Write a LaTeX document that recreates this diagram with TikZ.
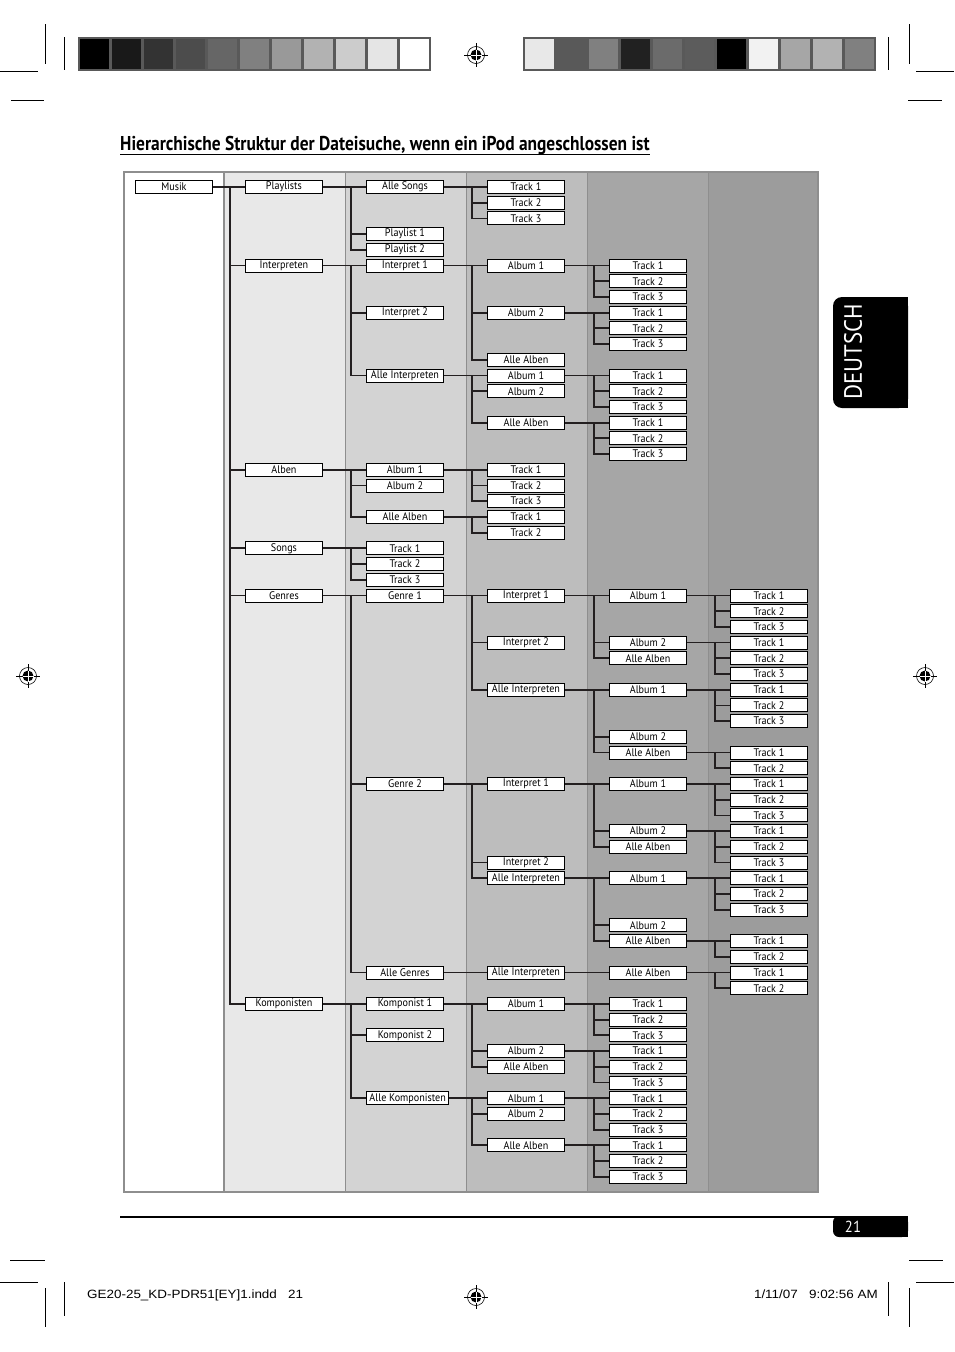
\documentclass[tikz,border=0pt]{standalone}
\usepackage{fontspec}
\setmainfont{PT Sans}
\newfontfamily\titlefont[FakeStretch=0.87]{PT Sans}
\newfontfamily\boxfont[FakeStretch=0.92]{PT Sans}
\newfontfamily\slugfont[FakeStretch=1.12]{Liberation Sans}
\definecolor{bandB}{HTML}{E8E8E8}
\definecolor{bandC}{HTML}{D3D3D3}
\definecolor{bandD}{HTML}{BDBDBD}
\definecolor{bandE}{HTML}{A6A6A6}
\definecolor{bandF}{HTML}{9C9C9C}
\definecolor{sepgray}{HTML}{8E8E8E}
\definecolor{linkgray}{HTML}{231F20}
\begin{document}
\begin{tikzpicture}[x=1pt, y=-1pt,
    declare function={rowy(\k)=187+15.71*\k;},
    box/.style={draw, line width=0.9pt, fill=white, minimum width=77pt, minimum height=13pt,
      inner xsep=3pt, inner ysep=1pt, anchor=west, font=\boxfont\fontsize{11}{11}\selectfont},
    link/.style={line width=1.8pt, color=linkgray},
    crop/.style={line width=0.6pt},
    target/.pic={
      \draw[line width=0.6pt] (0,0) circle (8.5pt);
      \fill (0,0) circle (5.5pt);
      \draw[line width=0.6pt] (-12,0) -- (12,0) (0,-12) -- (0,12);
      \draw[white, line width=0.8pt] (-5.5,0) -- (5.5,0) (0,-5.5) -- (0,5.5);
    }]
    \useasboundingbox (0,0) rectangle (954,1352);

    % Crop marks
    \draw[crop] (45,24) -- (45,64) (64,37) -- (64,70) (0,71) -- (38,71) (11,100) -- (44,100);
    \draw[crop] (888,37) -- (888,70) (909,24) -- (909,64) (916,71) -- (954,71) (908,100) -- (942,100);
    \draw[crop] (10,1260) -- (45,1260) (0,1282) -- (38,1282) (45,1288) -- (45,1327) (64,1282) -- (64,1316);
    \draw[crop] (909,1260) -- (943,1260) (916,1282) -- (954,1282) (888,1282) -- (888,1316) (909,1288) -- (909,1327);

    % Registration marks
    \pic at (476,55) {target};
    \pic at (28,676) {target};
    \pic at (925,676) {target};
    \pic at (476,1297) {target};

    % Colour bars
    \fill[black!65] (78,37) rectangle (431,71);
    \foreach \p [count=\i from 0] in {100,90,80,70,60,50,40,30,20,10,0}
      \fill[black!\p] ({80+32*\i},39) rectangle ({109+32*\i},69);
    \fill[black!65] (523,37) rectangle (876,71);
    \foreach \p [count=\i from 0] in {9,65,50,87,58,64,100,5,35,30,50}
      \fill[black!\p] ({525+32*\i},39) rectangle ({554+32*\i},69);

    % Title
    \node[anchor=base west, inner sep=0, font=\titlefont\bfseries\fontsize{20}{22}\selectfont] (title) at (120,150)
      {Hierarchische Struktur der Dateisuche, wenn ein iPod angeschlossen ist};
    \coordinate (ul) at (120,154.5);
    \draw[line width=1.3pt] (ul) -- (ul -| title.east);

    % Language tab
    \fill[rounded corners=9pt] (833,297) rectangle (908,408);
    \fill (880,297) rectangle (908,408);
    \node[rotate=90, white, font=\boxfont\fontsize{25}{26}\selectfont] (lang) at (853,352) {DEUTSCH};

    % Columns
    \fill[white] (124,172) rectangle (224,1192);
    \fill[bandB] (224,172) rectangle (345,1192);
    \fill[bandC] (345,172) rectangle (466,1192);
    \fill[bandD] (466,172) rectangle (587,1192);
    \fill[bandE] (587,172) rectangle (708,1192);
    \fill[bandF] (708,172) rectangle (818,1192);
    \foreach \x in {345,466,587,708}
      \draw[sepgray, line width=0.8pt] (\x,172) -- (\x,1192);
    \draw[sepgray, line width=2pt] (224,172) -- (224,1192);
    \draw[sepgray, line width=1.2pt] (124,172) rectangle (818,1192);

    % Boxes
    \node[box] (a0) at (135,{rowy(0)}) {Musik};
    \foreach \r/\t in {0/Playlists, 5/Interpreten, 18/Alben, 23/Songs, 26/Genres, 52/Komponisten}
      \node[box] (b\r) at (245,{rowy(\r)}) {\t};
    \foreach \r/\t in {0/Alle Songs, 3/Playlist 1, 4/Playlist 2, 5/Interpret 1, 8/Interpret 2,
        12/Alle Interpreten, 18/Album 1, 19/Album 2, 21/Alle Alben, 23/Track 1, 24/Track 2,
        25/Track 3, 26/Genre 1, 38/Genre 2, 50/Alle Genres, 52/Komponist 1, 54/Komponist 2,
        58/Alle Komponisten}
      \node[box] (c\r) at (366,{rowy(\r)}) {\t};
    \foreach \r/\t in {0/Track 1, 1/Track 2, 2/Track 3, 5/Album 1, 8/Album 2, 11/Alle Alben,
        12/Album 1, 13/Album 2, 15/Alle Alben, 18/Track 1, 19/Track 2, 20/Track 3, 21/Track 1,
        22/Track 2, 26/Interpret 1, 29/Interpret 2, 32/Alle Interpreten, 38/Interpret 1,
        43/Interpret 2, 44/Alle Interpreten, 50/Alle Interpreten, 52/Album 1, 55/Album 2,
        56/Alle Alben, 58/Album 1, 59/Album 2, 61/Alle Alben}
      \node[box] (d\r) at (487,{rowy(\r)}) {\t};
    \foreach \r/\t in {5/Track 1, 6/Track 2, 7/Track 3, 8/Track 1, 9/Track 2, 10/Track 3,
        12/Track 1, 13/Track 2, 14/Track 3, 15/Track 1, 16/Track 2, 17/Track 3,
        26/Album 1, 29/Album 2, 30/Alle Alben, 32/Album 1, 35/Album 2, 36/Alle Alben,
        38/Album 1, 41/Album 2, 42/Alle Alben, 44/Album 1, 47/Album 2, 48/Alle Alben,
        50/Alle Alben, 52/Track 1, 53/Track 2, 54/Track 3, 55/Track 1, 56/Track 2, 57/Track 3,
        58/Track 1, 59/Track 2, 60/Track 3, 61/Track 1, 62/Track 2, 63/Track 3}
      \node[box] (e\r) at (609,{rowy(\r)}) {\t};
    \foreach \r/\t in {26/Track 1, 27/Track 2, 28/Track 3, 29/Track 1, 30/Track 2, 31/Track 3,
        32/Track 1, 33/Track 2, 34/Track 3, 36/Track 1, 37/Track 2, 38/Track 1, 39/Track 2,
        40/Track 3, 41/Track 1, 42/Track 2, 43/Track 3, 44/Track 1, 45/Track 2, 46/Track 3,
        48/Track 1, 49/Track 2, 50/Track 1, 51/Track 2}
      \node[box] (f\r) at (730,{rowy(\r)}) {\t};

    % Connectors
    \foreach \p/\kids in {a0/{b0,b5,b18,b23,b26,b52},
        b0/{c0,c3,c4}, b5/{c5,c8,c12}, b18/{c18,c19,c21}, b23/{c23,c24,c25},
        b26/{c26,c38,c50}, b52/{c52,c54,c58},
        c0/{d0,d1,d2}, c5/{d5,d8,d11}, c12/{d12,d13,d15}, c18/{d18,d19,d20}, c21/{d21,d22},
        c26/{d26,d29,d32}, c38/{d38,d43,d44}, c50/{d50}, c52/{d52,d55,d56}, c58/{d58,d59,d61},
        d5/{e5,e6,e7}, d8/{e8,e9,e10}, d12/{e12,e13,e14}, d15/{e15,e16,e17},
        d26/{e26,e29,e30}, d32/{e32,e35,e36}, d38/{e38,e41,e42}, d44/{e44,e47,e48}, d50/{e50},
        d52/{e52,e53,e54}, d55/{e55,e56,e57}, d58/{e58,e59,e60}, d61/{e61,e62,e63},
        e26/{f26,f27,f28}, e29/{f29,f30,f31}, e32/{f32,f33,f34}, e36/{f36,f37},
        e38/{f38,f39,f40}, e41/{f41,f42,f43}, e44/{f44,f45,f46}, e48/{f48,f49}, e50/{f50,f51}}
      \foreach \c in \kids
        \draw[link] (\p.east) -| ([xshift=-15pt]\c.west) -- (\c.west);

    % Page rule and number
    \draw[line width=2pt] (120,1217) -- (908,1217);
    \fill[rounded corners=6pt] (833,1216) rectangle (908,1237);
    \fill (880,1216) rectangle (908,1237);
    \node[white, font=\boxfont\fontsize{16}{17}\selectfont] (pagenum) at (853,1227) {21};

    % Slug line
    \node[anchor=base west, inner sep=0, font=\slugfont\fontsize{12}{13}\selectfont] (slugL) at (87,1298)
      {GE20-25\_KD-PDR51[EY]1.indd\ \ \ 21};
    \node[anchor=base east, inner sep=0, font=\slugfont\fontsize{12}{13}\selectfont] (slugR) at (878,1298)
      {1/11/07\ \ \ 9:02:56 AM};
\end{tikzpicture}
\end{document}
